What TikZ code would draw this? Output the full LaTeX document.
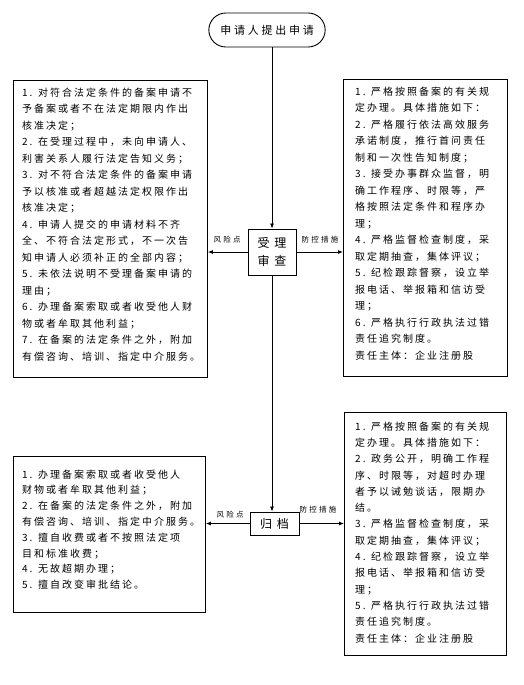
\documentclass[tikz,border=0pt]{standalone}
\usepackage{fontspec}
\usetikzlibrary{arrows.meta,shapes.misc}
\newfontfamily\cjk{Noto Sans CJK SC}[LetterSpace=20]
\newfontfamily\cjko{Noto Sans CJK SC}[LetterSpace=25]
\newfontfamily\cjkb{Noto Sans CJK SC}[LetterSpace=40]
\newfontfamily\cjkl{Noto Sans CJK SC}[LetterSpace=30]
\begin{document}
\begin{tikzpicture}[x=1pt,y=-1pt,
  frame/.style={draw=black,line width=0.9pt,inner sep=0,anchor=north west,fill=white},
  body/.style={anchor=north west,inner sep=0,align=left},
  bodyA/.style={body,font=\cjk\fontsize{10}{16.5}\selectfont},
  bodyB/.style={body,font=\cjk\fontsize{10}{15.8}\selectfont},
  bodyC/.style={body,font=\cjk\fontsize{10}{16.3}\selectfont},
  stepbox/.style={draw=black,line width=0.9pt,inner sep=0,align=center,font=\cjkb\fontsize{12}{18}\selectfont},
  lbl/.style={inner sep=0,font=\cjkl\fontsize{7.5}{9}\selectfont},
  conn/.style={line width=0.8pt,-{Latex[length=5pt,width=4pt]}}]
\useasboundingbox (0,0) rectangle (523,685);
\fill[white] (0,0) rectangle (523,685);

% top oval
\node[draw=black,line width=0.9pt,rounded rectangle,minimum width=123pt,minimum height=34pt,
      font=\cjko\fontsize{11}{13}\selectfont] (start) at (267,30) {申请人提出申请};

% step boxes
\node[stepbox,minimum width=48pt,minimum height=46pt] (sl) at (272,252) {受理\\审查};
\node[stepbox,minimum width=49pt,minimum height=23pt] (gd) at (274.5,523.5) {归档};

% frames
\node[frame,minimum width=194pt,minimum height=297pt] (la) at (13,80) {};
\node[frame,minimum width=164pt,minimum height=297pt] (ra) at (343,79) {};
\node[frame,minimum width=192pt,minimum height=156pt] (lb) at (13,456) {};
\node[frame,minimum width=162pt,minimum height=243pt] (rb) at (344,412) {};

% texts
\node[bodyA] (tla) at (22,87.5) {1. 对符合法定条件的备案申请不\\
予备案或者不在法定期限内作出\\
核准决定；\\
2. 在受理过程中，未向申请人、\\
利害关系人履行法定告知义务；\\
3. 对不符合法定条件的备案申请\\
予以核准或者超越法定权限作出\\
核准决定；\\
4. 申请人提交的申请材料不齐\\
全、不符合法定形式，不一次告\\
知申请人必须补正的全部内容；\\
5. 未依法说明不受理备案申请的\\
理由；\\
6. 办理备案索取或者收受他人财\\
物或者牟取其他利益；\\
7. 在备案的法定条件之外，附加\\
有偿咨询、培训、指定中介服务。};

\node[bodyA] (tra) at (355,86.5) {1. 严格按照备案的有关规\\
定办理。具体措施如下：\\
2. 严格履行依法高效服务\\
承诺制度，推行首问责任\\
制和一次性告知制度；\\
3. 接受办事群众监督，明\\
确工作程序、时限等，严\\
格按照法定条件和程序办\\
理；\\
4. 严格监督检查制度，采\\
取定期抽查，集体评议；\\
5. 纪检跟踪督察，设立举\\
报电话、举报箱和信访受\\
理；\\
6. 严格执行行政执法过错\\
责任追究制度。\\
责任主体：企业注册股};

\node[bodyB] (tlb) at (22,469.5) {1. 办理备案索取或者收受他人\\
财物或者牟取其他利益；\\
2. 在备案的法定条件之外，附加\\
有偿咨询、培训、指定中介服务。\\
3. 擅自收费或者不按照法定项\\
目和标准收费；\\
4. 无故超期办理；\\
5. 擅自改变审批结论。};

\node[bodyC] (trb) at (355,421.5) {1. 严格按照备案的有关规\\
定办理。具体措施如下：\\
2. 政务公开，明确工作程\\
序、时限等，对超时办理\\
者予以诫勉谈话，限期办\\
结。\\
3. 严格监督检查制度，采\\
取定期抽查，集体评议；\\
4. 纪检跟踪督察，设立举\\
报电话、举报箱和信访受\\
理；\\
5. 严格执行行政执法过错\\
责任追究制度。\\
责任主体：企业注册股};

% connectors
\draw[conn] (start.south -| sl.north) -- (sl.north);
\draw[conn] (sl.south) -- (sl.south |- gd.north);
\draw[conn] (sl.west) -- (sl.west -| la.east);
\draw[conn] (sl.east) -- (sl.east -| ra.west);
\draw[conn] (gd.west) -- (gd.west -| lb.east);
\draw[conn] (gd.east) -- (gd.east -| rb.west);

% labels
\node[lbl] (l1) at (227,240) {风险点};
\node[lbl] (l2) at (320,240) {防控措施};
\node[lbl] (l3) at (230,515) {风险点};
\node[lbl] (l4) at (318,510) {防控措施};
\end{tikzpicture}
\end{document}
